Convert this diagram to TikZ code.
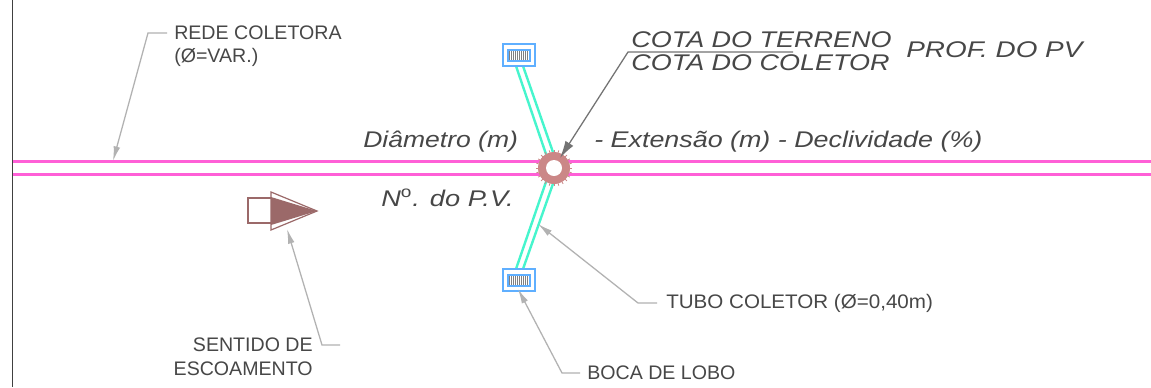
\documentclass[tikz,border=0pt]{standalone}
\usepackage{fontspec}
\setmainfont{Liberation Sans}
\usetikzlibrary{arrows.meta}
\definecolor{manh}{RGB}{203,135,135}
\definecolor{arrowb}{RGB}{155,105,105}
\definecolor{pinkc}{RGB}{255,95,215}
\definecolor{tubec}{RGB}{70,245,205}
\definecolor{bluec}{RGB}{95,175,255}
\tikzset{
  x=0.75pt,y=-0.75pt,
  lbl/.style={font=\fontsize{14.7}{18}\selectfont,text=black!72,inner sep=0pt,anchor=west},
  ital/.style={font=\fontsize{17}{20}\selectfont\itshape,text=black!72,inner sep=0pt,anchor=west},
  leader/.style={draw=black!30,line width=0.95pt,-{Latex[length=11pt,width=5pt,fill=black!30]}},
  leaderdark/.style={draw=black!55,line width=0.95pt,-{Latex[length=13pt,width=7pt,fill=black!55]}},
  pipeline/.style={draw=pinkc,line width=1.9pt},
  tube/.style={draw=tubec,line width=1.8pt},
  grate/.style={draw=bluec,line width=1.1pt}
}
\begin{document}
\begin{tikzpicture}
\useasboundingbox (0,0) rectangle (1151,387);
\fill[white] (0,0) rectangle (1151,387);
\draw[black!75,line width=1.1pt] (12.5,0) -- (12.5,387);
% pipes
\draw[pipeline] (13,161.5) -- (1151,161.5);
\draw[pipeline] (13,174.5) -- (1151,174.5);
% tubes
\draw[tube] (516,66) -- (548,160);
\draw[tube] (523,66) -- (555,158);
\draw[tube] (516,269) -- (548,176);
\draw[tube] (523,269) -- (555,178);
% manhole
\node[circle,fill=manh,minimum size=24pt,inner sep=0pt] (pv) at (554,168) {};
\foreach \a in {0,15,...,345} \draw[manh,line width=0.6pt] (554,168) ++(\a:11.9pt) -- ++(\a:1.8pt);
\node[circle,fill=white,minimum size=12pt,inner sep=0pt] at (554,168) {};
% grates
\foreach \y in {44,269} {
  \draw[grate] (503,\y) rectangle (535,\y+22);
  \foreach \i in {0,...,10} \draw[black!50,line width=0.7pt] (509+\i*2,\y+6) -- (509+\i*2,\y+17);
  \draw[grate] (508,\y+6) rectangle (530,\y+17);
}
% flow arrow
\draw[arrowb,line width=0.9pt] (271,198) -- (248,198) -- (248,223) -- (271,223);
\draw[arrowb,line width=0.9pt,fill=white] (271,192) -- (317,211) -- (271,230) -- cycle;
\fill[arrowb] (271,197) -- (317,211) -- (271,225) -- cycle;
% labels
\node[lbl] (rede) at (174,33) {REDE COLETORA};
\node[lbl] (rede2) at (174,57) {(Ø=VAR.)};
\node[lbl,xscale=1.05] (tubo) at (666,303) {TUBO COLETOR (Ø=0,40m)};
\node[lbl] (boca) at (587,373) {BOCA DE LOBO};
\node[lbl,anchor=east] (sent) at (313,345) {SENTIDO DE};
\node[lbl,anchor=east] (sent2) at (313,369) {ESCOAMENTO};
% italics
\node[ital,xscale=1.19] (ct) at (631,39.5) {COTA DO TERRENO};
\node[ital,xscale=1.19] (cc) at (631,62.5) {COTA DO COLETOR};
\node[ital,xscale=1.23] (pp) at (906,50) {PROF. DO PV};
\node[ital,xscale=1.17] (dm) at (363,142) {Diâmetro (m)};
\node[ital,xscale=1.185] (ex) at (594,142) {- Extensão (m) - Declividade (\%)};
\node[ital,xscale=1.2] (nv) at (381,198) {N$^{\mathrm{o}}$. do P.V.};
% leaders
\coordinate (a1) at (113,161);
\coordinate (a2) at (287,229);
\coordinate (a3) at (518,289);
\coordinate (a4) at (538,224);
\coordinate (a5) at (560,158);
\coordinate (b1) at (167,33);
\coordinate (b2) at (340,345);
\coordinate (b3) at (580,373);
\coordinate (b4) at (657,303);
\coordinate (b5) at (793,52);
\draw[leader] (b1) -- (148,33) -- (a1);
\draw[leader] (b2) -- (322,345) -- (a2);
\draw[leader] (b3) -- (562,373) -- (a3);
\draw[leader] (b4) -- (638,303) -- (a4);
\draw[leaderdark] (b5) -- (628,52) -- (a5);
\end{tikzpicture}
\end{document}
